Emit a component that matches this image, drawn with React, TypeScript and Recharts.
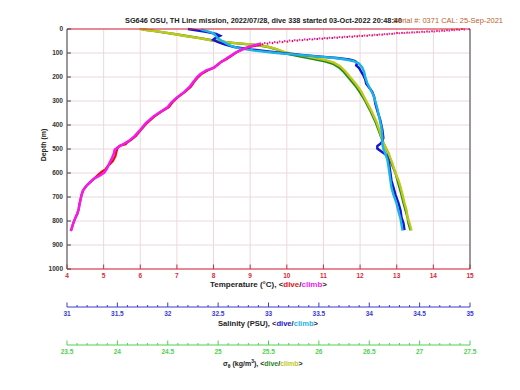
import { ComposedChart, Line, XAxis, YAxis, CartesianGrid } from "recharts";

const W = 504;
const H = 374;
const FONT = "Liberation Sans, Arial, sans-serif";

// axis ticks
const depthTicks = [0, 100, 200, 300, 400, 500, 600, 700, 800, 900, 1000];
const tempTicks = [4, 5, 6, 7, 8, 9, 10, 11, 12, 13, 14, 15];
const salLabels = [31, 31.5, 32, 32.5, 33, 33.5, 34, 34.5, 35];
const densLabels = [23.5, 24, 24.5, 25, 25.5, 26, 26.5, 27, 27.5];

// minor ticks every 0.1 between the labelled ones
function minorTicks(labels: number[]) {
  const out: number[] = [];
  for (let i = 0; i < labels.length - 1; i++) {
    for (let k = 0; k < 5; k++) out.push(Math.round((labels[i] + k * 0.1) * 10) / 10);
  }
  out.push(labels[labels.length - 1]);
  return out;
}
const salTicks = minorTicks(salLabels);
const densTicks = minorTicks(densLabels);

// temperature, dive (near-surface samples are sparse)
const tempDiveSurfDepth = [0, 5, 10, 15, 17, 20, 26, 32, 40, 48, 56, 64];
const tempDiveSurf = [14.8, 14.4, 13.9, 13.3, 13.0, 12.9, 12.4, 11.8, 11.0, 10.3, 9.8, 9.3];
const tempDiveDepth = [64, 74, 84, 95, 105, 116, 126, 136, 148, 160, 172, 186, 200, 220, 240, 262, 285, 305, 325, 345, 365, 392, 420, 445, 462, 472, 480, 486, 495, 510, 530, 550, 570, 585, 595, 608, 622, 640, 655, 672, 690, 710, 730, 750, 770, 790, 810, 830, 840];
const tempDive = [9.3, 9.0, 8.8, 8.65, 8.55, 8.45, 8.35, 8.22, 8.12, 8.02, 7.85, 7.68, 7.58, 7.47, 7.38, 7.22, 7.02, 6.88, 6.78, 6.57, 6.38, 6.18, 6.02, 5.88, 5.75, 5.65, 5.6, 5.45, 5.38, 5.35, 5.32, 5.25, 5.12, 5.05, 4.95, 4.85, 4.75, 4.62, 4.52, 4.44, 4.4, 4.37, 4.34, 4.32, 4.28, 4.22, 4.17, 4.13, 4.11];

// temperature, climb
const tempClimbSurfDepth = [0, 4, 8, 12, 16, 20, 26, 32, 38, 45, 52, 60];
const tempClimbSurf = [15.0, 14.7, 14.3, 13.8, 13.3, 12.8, 12.2, 11.6, 11.0, 10.3, 9.8, 9.3];
const tempClimbDepth = [60, 68, 78, 88, 98, 108, 118, 128, 138, 150, 162, 172, 186, 200, 220, 240, 262, 285, 305, 325, 345, 365, 392, 420, 445, 465, 478, 490, 503, 518, 540, 560, 580, 598, 612, 625, 640, 655, 672, 690, 710, 730, 750, 770, 790, 810, 830, 842];
const tempClimb = [9.3, 9.1, 8.9, 8.75, 8.6, 8.5, 8.4, 8.3, 8.2, 8.1, 8.0, 7.8, 7.65, 7.55, 7.45, 7.35, 7.2, 7.0, 6.85, 6.75, 6.55, 6.35, 6.15, 6.0, 5.85, 5.7, 5.55, 5.42, 5.3, 5.28, 5.22, 5.15, 5.1, 5.02, 4.88, 4.72, 4.62, 4.52, 4.44, 4.4, 4.37, 4.34, 4.32, 4.28, 4.22, 4.17, 4.13, 4.1];

// salinity, dive
const salDiveDepth = [0, 5, 12, 20, 28, 36, 45, 55, 65, 75, 85, 95, 103, 110, 116, 121, 127, 134, 142, 152, 163, 178, 192, 210, 228, 245, 262, 285, 310, 340, 380, 420, 455, 475, 488, 498, 510, 525, 545, 570, 600, 630, 660, 690, 725, 755, 785, 810, 838];
const salDive = [32.2, 32.28, 32.38, 32.48, 32.52, 32.48, 32.45, 32.5, 32.57, 32.66, 32.82, 33.02, 33.2, 33.38, 33.55, 33.68, 33.8, 33.86, 33.88, 33.87, 33.9, 33.92, 33.94, 33.96, 33.97, 34.0, 34.03, 34.05, 34.06, 34.08, 34.11, 34.13, 34.14, 34.12, 34.08, 34.08, 34.12, 34.17, 34.19, 34.2, 34.21, 34.22, 34.24, 34.26, 34.29, 34.31, 34.32, 34.34, 34.35];

// salinity, climb
const salClimbDepth = [2, 8, 14, 20, 30, 40, 50, 60, 70, 80, 90, 100, 108, 115, 121, 128, 136, 145, 160, 180, 200, 225, 250, 275, 300, 330, 370, 410, 450, 480, 500, 520, 545, 570, 600, 630, 660, 690, 725, 760, 790, 815, 840];
const salClimb = [32.33, 32.38, 32.43, 32.46, 32.48, 32.5, 32.54, 32.58, 32.63, 32.7, 32.86, 33.08, 33.3, 33.5, 33.66, 33.78, 33.86, 33.9, 33.93, 33.95, 33.96, 33.98, 34.01, 34.04, 34.06, 34.08, 34.1, 34.12, 34.13, 34.13, 34.14, 34.16, 34.18, 34.19, 34.2, 34.21, 34.22, 34.24, 34.27, 34.29, 34.31, 34.32, 34.33];

// sigma-theta, dive
const densDiveDepth = [2, 8, 15, 22, 30, 38, 48, 55, 61, 67, 75, 85, 95, 105, 115, 125, 135, 145, 160, 180, 205, 235, 265, 300, 340, 385, 430, 475, 520, 560, 600, 630, 660, 690, 725, 755, 785, 810, 838];
const densDive = [24.25, 24.36, 24.47, 24.58, 24.7, 24.82, 24.95, 25.08, 25.22, 25.38, 25.5, 25.58, 25.64, 25.7, 25.82, 25.95, 26.06, 26.14, 26.2, 26.25, 26.3, 26.36, 26.41, 26.46, 26.51, 26.56, 26.6, 26.64, 26.69, 26.72, 26.76, 26.78, 26.8, 26.82, 26.84, 26.86, 26.88, 26.89, 26.91];

// sigma-theta, climb
const densClimbDepth = [0, 6, 12, 20, 28, 36, 45, 52, 58, 63, 70, 80, 90, 98, 106, 114, 122, 130, 140, 155, 175, 200, 230, 260, 300, 340, 385, 433, 475, 517, 560, 600, 630, 658, 690, 725, 755, 783, 810, 840];
const densClimb = [24.22, 24.33, 24.43, 24.55, 24.66, 24.78, 24.9, 25.02, 25.14, 25.3, 25.45, 25.55, 25.62, 25.68, 25.78, 25.88, 25.98, 26.07, 26.15, 26.21, 26.26, 26.31, 26.37, 26.42, 26.47, 26.52, 26.57, 26.61, 26.64, 26.69, 26.73, 26.76, 26.79, 26.81, 26.83, 26.85, 26.87, 26.88, 26.9, 26.92];

const zip = (depth: number[], vals: number[]) => depth.map((d, i) => ({ d, v: vals[i] }));

const C = {
  tDive: "#e8101a",
  tClimb: "#f01cf0",
  sDive: "#1414d2",
  sClimb: "#1cb4e0",
  dDive: "#1e8a1e",
  dClimb: "#c0c81c",
  salAxis: "#3a3ad0",
  densAxis: "#50d050",
  tempAxis: "#d8283a",
  grid: "#ecd8de",
};

// axis ids: "a" temperature (next to the plot), "b" salinity, "c" sigma-theta
const TEMP = "a";
const SAL = "b";
const DENS = "c";

// bottom axis tick: inward line, label below
function bottomTick(color: string, labels: number[]) {
  return (props: any) => {
    const { x, y, payload } = props;
    const v = payload.value;
    const major = labels.some((l) => Math.abs(l - v) < 1e-6);
    return (
      <g>
        <line x1={x} x2={x} y1={y} y2={y - (major ? 4.5 : 2)} stroke={color} />
        {major && (
          <text x={x} y={y + 9} textAnchor="middle" fill={color} fontSize={6.5} fontWeight="bold" fontFamily={FONT}>
            {v}
          </text>
        )}
      </g>
    );
  };
}

const topTick = (props: any) => (
  <line x1={props.x} x2={props.x} y1={props.y} y2={props.y + 4} stroke={C.tempAxis} />
);

const leftTick = (props: any) => {
  const { x, y, payload } = props;
  return (
    <g>
      <line x1={x} x2={x + 4} y1={y} y2={y} stroke="#444" />
      <text x={x - 4} y={y + 2.3} textAnchor="end" fill="#333" fontSize={6.5} fontWeight="bold" fontFamily={FONT}>
        {payload.value}
      </text>
    </g>
  );
};

const rightTick = (props: any) => (
  <line x1={props.x} x2={props.x - 4} y1={props.y} y2={props.y} stroke="#444" />
);

const txt = { fontSize: 7, fontWeight: "bold", fontFamily: FONT, fill: "#222" } as const;

export default function App() {
  const series = [
    { id: DENS, data: zip(densDiveDepth, densDive), color: C.dDive },
    { id: DENS, data: zip(densClimbDepth, densClimb), color: C.dClimb },
    { id: SAL, data: zip(salDiveDepth, salDive), color: C.sDive },
    { id: SAL, data: zip(salClimbDepth, salClimb), color: C.sClimb },
    { id: TEMP, data: zip(tempDiveSurfDepth, tempDiveSurf), color: C.tDive, dotted: true },
    { id: TEMP, data: zip(tempDiveDepth, tempDive), color: C.tDive },
    { id: TEMP, data: zip(tempClimbSurfDepth, tempClimbSurf), color: C.tClimb, dotted: true },
    { id: TEMP, data: zip(tempClimbDepth, tempClimb), color: C.tClimb },
  ];

  return (
    <div style={{ position: "relative", width: W, height: H }}>
      <ComposedChart
        width={W}
        height={H}
        layout="vertical"
        margin={{ top: 20, right: 41, left: 0, bottom: 7 }}
      >
        <CartesianGrid xAxisId={TEMP} stroke={C.grid} />
        <XAxis
          xAxisId="top"
          orientation="top"
          type="number"
          domain={[4, 15]}
          ticks={tempTicks}
          interval={0}
          height={1}
          tickSize={0}
          tickMargin={0}
          tick={topTick}
          axisLine={{ stroke: C.tempAxis }}
        />
        <XAxis
          xAxisId={DENS}
          type="number"
          domain={[23.5, 27.5]}
          ticks={densTicks}
          interval={0}
          height={30}
          tickSize={0}
          tickMargin={0}
          tick={bottomTick(C.densAxis, densLabels)}
          axisLine={{ stroke: C.densAxis }}
        />
        <XAxis
          xAxisId={SAL}
          type="number"
          domain={[31, 35]}
          ticks={salTicks}
          interval={0}
          height={38}
          tickSize={0}
          tickMargin={0}
          tick={bottomTick(C.salAxis, salLabels)}
          axisLine={{ stroke: C.salAxis }}
        />
        <XAxis
          xAxisId={TEMP}
          type="number"
          domain={[4, 15]}
          ticks={tempTicks}
          interval={0}
          height={38}
          tickSize={0}
          tickMargin={0}
          tick={bottomTick(C.tempAxis, tempTicks)}
          axisLine={{ stroke: C.tempAxis }}
        />
        <YAxis
          type="number"
          dataKey="d"
          domain={[0, 1000]}
          ticks={depthTicks}
          interval={0}
          width={59}
          tickSize={0}
          tickMargin={0}
          tick={leftTick}
          axisLine={{ stroke: "#444" }}
        />
        <YAxis
          yAxisId="r"
          orientation="right"
          type="number"
          dataKey="d"
          domain={[0, 1000]}
          ticks={depthTicks}
          interval={0}
          width={1}
          tickSize={0}
          tickMargin={0}
          tick={rightTick}
          axisLine={{ stroke: "#444" }}
        />
        {series.map((s, i) => (
          <Line
            key={i}
            xAxisId={s.id}
            data={s.data}
            dataKey="v"
            type="linear"
            stroke={s.color}
            strokeWidth={s.dotted ? 2 : 2.4}
            strokeDasharray={s.dotted ? "1.5 3.5" : undefined}
            dot={false}
            isAnimationActive={false}
          />
        ))}
      </ComposedChart>
      <svg width={W} height={H} style={{ position: "absolute", left: 0, top: 0, pointerEvents: "none" }}>
        <text x={117} y={14.5} textLength={277} lengthAdjust="spacingAndGlyphs" {...txt}>
          SG646 OSU, TH Line mission, 2022/07/28, dive 338 started 03-Oct-2022 20:48:40
        </text>
        <text x={385} y={14.5} textLength={110} lengthAdjust="spacingAndGlyphs" fontSize={6.5} fontFamily={FONT} fill="#b8622c">
          Serial #: 0371  CAL: 25-Sep-2021
        </text>
        <text transform="translate(35,137) rotate(-90)" textAnchor="middle" dominantBaseline="central" {...txt}>
          Depth (m)
        </text>
        <text x={202} y={278.5} textLength={117} lengthAdjust="spacingAndGlyphs" {...txt}>
          Temperature (°C), &lt;<tspan fill={C.tDive}>dive</tspan>/<tspan fill={C.tClimb}>climb</tspan>&gt;
        </text>
        <text x={210} y={317.5} textLength={100} lengthAdjust="spacingAndGlyphs" {...txt}>
          Salinity (PSU), &lt;<tspan fill={C.sDive}>dive</tspan>/<tspan fill={C.sClimb}>climb</tspan>&gt;
        </text>
        <text x={215} y={357.5} {...txt}>
          σ<tspan fontSize={5} dy={2}>θ</tspan>
          <tspan dy={-2}> (kg/m</tspan>
          <tspan fontSize={5} dy={-2.5}>3</tspan>
          <tspan dy={2.5}>), &lt;</tspan>
          <tspan fill={C.dDive}>dive</tspan>/<tspan fill={C.dClimb}>climb</tspan>&gt;
        </text>
      </svg>
    </div>
  );
}
